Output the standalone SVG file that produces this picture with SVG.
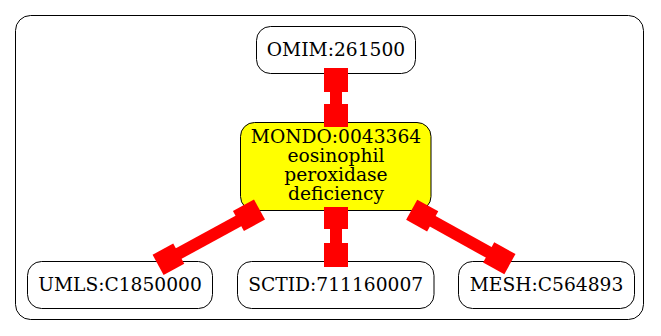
<svg xmlns="http://www.w3.org/2000/svg" width="661" height="336" viewBox="0 0 661 336">
  <style>
    .cluster { fill: #ffffff; stroke: #000000; stroke-width: 1; }
    .node rect { fill: #ffffff; stroke: #000000; stroke-width: 1; }
    .node.focus rect { fill: #ffff00; }
    .node text { font-family: "DejaVu Serif", serif; font-size: 18.67px; fill: #000000; text-anchor: middle; }
    .edge rect { fill: #ff0000; stroke: none; }
  </style>

  <rect width="661" height="336" fill="#ffffff"/>

  <!-- enclosing cluster -->
  <rect class="cluster" x="15.5" y="15.5" width="628" height="304" rx="15" ry="15"/>

  <g id="node-omim" class="node">
    <rect x="256.5" y="26.5" width="159" height="47" rx="14" ry="14"/>
    <text x="336" y="56">OMIM:261500</text>
  </g>

  <g id="node-mondo" class="node focus">
    <rect x="240.5" y="122.5" width="190.5" height="88" rx="14" ry="14"/>
    <text x="336" y="142.5">MONDO:0043364</text>
    <text x="336" y="161.8">eosinophil</text>
    <text x="336" y="181.1">peroxidase</text>
    <text x="336" y="200.4">deficiency</text>
  </g>

  <g id="node-umls" class="node">
    <rect x="27.5" y="261.5" width="185" height="47" rx="14" ry="14"/>
    <text x="120" y="290.5">UMLS:C1850000</text>
  </g>

  <g id="node-sctid" class="node">
    <rect x="237.5" y="261.5" width="196.5" height="47" rx="14" ry="14"/>
    <text x="335.7" y="290.5">SCTID:711160007</text>
  </g>

  <g id="node-mesh" class="node">
    <rect x="458.5" y="261.5" width="176" height="47" rx="14" ry="14"/>
    <text x="546.5" y="290.5">MESH:C564893</text>
  </g>

  <!-- tee-ended connectors: block, bar, block along the local x axis -->
  <g id="edges">
    <g class="edge" id="edge-omim-mondo" transform="translate(336,68) rotate(90)">
      <rect x="0" y="-12" width="24" height="24"/>
      <rect x="23" y="-6" width="14" height="12"/>
      <rect x="36" y="-12" width="23" height="24"/>
    </g>
    <g class="edge" id="edge-mondo-sctid" transform="translate(336,207) rotate(90)">
      <rect x="0" y="-12" width="22" height="24"/>
      <rect x="21" y="-6" width="16" height="12"/>
      <rect x="36" y="-12" width="24" height="24"/>
    </g>
    <g class="edge" id="edge-mondo-umls" transform="translate(259.5,209.5) rotate(151.4)">
      <rect x="0" y="-11.5" width="24" height="23"/>
      <rect x="23" y="-6" width="70" height="12"/>
      <rect x="92" y="-11.5" width="23.5" height="23"/>
    </g>
    <g class="edge" id="edge-mondo-mesh" transform="translate(411.7,209.7) rotate(29)">
      <rect x="0" y="-11.5" width="24" height="23"/>
      <rect x="23" y="-6" width="66" height="12"/>
      <rect x="88" y="-11.5" width="24.3" height="23"/>
    </g>
  </g>
</svg>
